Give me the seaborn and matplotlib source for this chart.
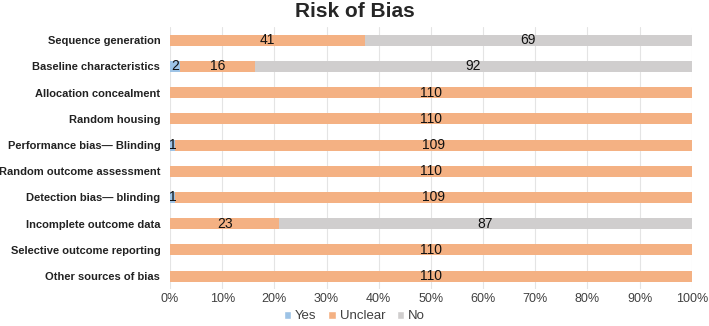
import matplotlib
matplotlib.use("Agg")
import matplotlib.pyplot as plt
import seaborn as sns
import pandas as pd
import numpy as np
from matplotlib.patches import Patch

categories = ["Sequence generation", "Baseline characteristics", "Allocation concealment",
              "Random housing", "Performance bias\u2014 Blinding", "Random outcome assessment",
              "Detection bias\u2014 blinding", "Incomplete outcome data",
              "Selective outcome reporting", "Other sources of bias"]
yes = [0, 2, 0, 0, 1, 0, 1, 0, 0, 0]
unclear = [41, 16, 110, 110, 109, 110, 109, 23, 110, 110]
no = [69, 92, 0, 0, 0, 0, 0, 87, 0, 0]
series_names = ["Yes", "Unclear", "No"]
colors = ["#9DC3E6", "#F4B183", "#D0CECE"]

sns.set_theme(style="white")
plt.rcParams['font.family'] = ['Liberation Sans', 'DejaVu Sans']

yes_a = np.array(yes, float); un_a = np.array(unclear, float); no_a = np.array(no, float)
total = yes_a + un_a + no_a
p_yes = yes_a / total * 100
p_un = un_a / total * 100
p_no = no_a / total * 100

df = pd.DataFrame({"cat": categories, "c1": p_yes, "c2": p_yes + p_un, "c3": p_yes + p_un + p_no})

fig = plt.figure(figsize=(7.09, 3.26), dpi=100)
ax = fig.add_axes([0.2398, 0.113, 0.736, 0.804])
for col, colr in zip(["c3", "c2", "c1"], colors[::-1]):
    sns.barplot(data=df, x=col, y="cat", color=colr, width=0.42, ax=ax,
                orient="h", saturation=1, linewidth=0)

ax.set_xlim(0, 100)
ax.set_xticks(np.arange(0, 101, 10))
ax.set_xticklabels([f"{v}%" for v in range(0, 101, 10)], fontsize=9, color="#404040")
ax.set_yticks(range(len(categories)))
ax.set_yticklabels(categories, fontsize=8, fontweight="bold", color="#222222")
ax.tick_params(axis="y", length=0, pad=7)
ax.tick_params(axis="x", length=0, pad=3)
ax.set_xlabel(""); ax.set_ylabel("")
ax.grid(axis="x", color="#E4E4E4", linewidth=0.8)
ax.set_axisbelow(True)
for s in ax.spines.values():
    s.set_visible(False)

lefts = [np.zeros(len(categories)), p_yes, p_yes + p_un]
for vals, pcts, left in zip([yes, unclear, no], [p_yes, p_un, p_no], lefts):
    for i, (v, p, l) in enumerate(zip(vals, pcts, left)):
        if v > 0:
            ax.text(l + p / 2, i, str(v), ha="center", va="center", fontsize=10, color="#111111")

fig.suptitle("Risk of Bias", x=0.5, y=0.995, fontsize=15, fontweight="bold", va="top")
handles = [Patch(facecolor=c, label=n) for c, n in zip(colors, series_names)]
fig.legend(handles=handles, loc="lower center", bbox_to_anchor=(0.50, -0.025), ncol=3,
           frameon=False, fontsize=9.5, handlelength=0.55, handleheight=0.55,
           handletextpad=0.3, columnspacing=0.9, labelcolor="#404040")
fig.savefig("out.png", dpi=100)
